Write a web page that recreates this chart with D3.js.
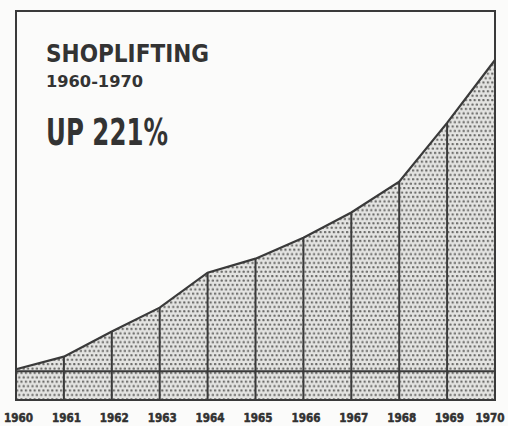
<!DOCTYPE html>
<html>
<head>
<meta charset="utf-8">
<script src="https://cdn.jsdelivr.net/npm/d3@7"></script>
<style>
  body { margin: 0; background: #fbfbfa; }
  svg { display: block; }
  .lbl { font-family: "Liberation Sans Narrow", "DejaVu Sans Condensed", "Liberation Sans", sans-serif; font-weight: bold; fill: #333; }
</style>
</head>
<body>
<div class="chart"></div>
<script>
// data: shoplifting index, 1960 = 100
const years = [1960, 1961, 1962, 1963, 1964, 1965, 1966, 1967, 1968, 1969, 1970];
const index = [100, 109, 127, 144, 169, 179, 194, 212, 234, 276, 321];
const baseValue = 98.5;
const titleLines = ["SHOPLIFTING", "1960-1970", "UP 221%"];

const W = 508, H = 426;
const margin = ({top: 11, right: 13, bottom: 26, left: 16});
const w = W - margin.left - margin.right,
      h = H - margin.top - margin.bottom;

const svg = d3.select(".chart")
  .append("svg")
  .attr("width", W)
  .attr("height", H);

// stipple pattern (staggered dots)
const defs = svg.append("defs");
const pat = defs.append("pattern")
  .attr("id", "dots")
  .attr("patternUnits", "userSpaceOnUse")
  .attr("width", 4.4)
  .attr("height", 8.8);
pat.append("rect").attr("width", 4.4).attr("height", 8.8).attr("fill", "#e4e4e2");
pat.append("circle").attr("cx", 1.1).attr("cy", 1.1).attr("r", 1.2).attr("fill", "#6a6a68");
pat.append("circle").attr("cx", 3.3).attr("cy", 5.5).attr("r", 1.2).attr("fill", "#6a6a68");

const g = svg.append("g")
  .attr("transform", `translate(${margin.left},${margin.top})`);

const x = d3.scaleLinear()
  .domain(d3.extent(years))
  .range([0, w]);

const y = d3.scaleLinear()
  .domain([78, 356])
  .range([h, 0]);

// shaded area under the curve, down to frame bottom
const area = d3.area()
  .x((d, i) => x(years[i]))
  .y0(h)
  .y1(d => y(d));

g.append("path")
  .datum(index)
  .attr("d", area)
  .attr("fill", "url(#dots)");

const ink = "#3a3a3a";

// vertical year lines
g.selectAll(".vline")
  .data(years)
  .enter()
  .append("line")
  .attr("class", "vline")
  .attr("x1", d => x(d))
  .attr("x2", d => x(d))
  .attr("y1", h)
  .attr("y2", (d, i) => y(index[i]))
  .attr("stroke", ink)
  .attr("stroke-width", 2);

// base line
g.append("line")
  .attr("x1", 0).attr("x2", w)
  .attr("y1", y(baseValue)).attr("y2", y(baseValue))
  .attr("stroke", ink)
  .attr("stroke-width", 2);

// curve
g.append("path")
  .datum(index)
  .attr("d", d3.line().x((d, i) => x(years[i])).y(d => y(d)))
  .attr("fill", "none")
  .attr("stroke", ink)
  .attr("stroke-width", 2.2);

// frame
g.append("rect")
  .attr("width", w)
  .attr("height", h)
  .attr("fill", "none")
  .attr("stroke", ink)
  .attr("stroke-width", 2);

// year labels via axis
const xAxis = d3.axisBottom(x)
  .tickValues(years)
  .tickFormat(d3.format("d"))
  .tickSize(0)
  .tickPadding(13);

const ax = g.append("g")
  .attr("transform", `translate(2,${h})`)
  .call(xAxis);
ax.select(".domain").remove();
ax.selectAll("text")
  .attr("class", "lbl")
  .attr("font-size", 13)
  .attr("fill", "#2c2c2c")
  .attr("stroke", "#2c2c2c")
  .attr("stroke-width", 0.5)
  .style("font-weight", "bold")
  .attr("textLength", 29)
  .attr("lengthAdjust", "spacingAndGlyphs");
// last label sits against the right edge, keep it inside the page
ax.selectAll("text")
  .filter(d => d === years[years.length - 1])
  .attr("text-anchor", "end")
  .attr("x", 7);

// title block
const title = svg.append("g").attr("class", "lbl");
title.append("text")
  .attr("x", 46).attr("y", 62)
  .attr("font-size", 24)
  .attr("textLength", 163)
  .attr("lengthAdjust", "spacingAndGlyphs")
  .text(titleLines[0]);
title.append("text")
  .attr("x", 46).attr("y", 87)
  .attr("font-size", 16.5)
  .attr("textLength", 97)
  .attr("lengthAdjust", "spacingAndGlyphs")
  .text(titleLines[1]);
title.append("text")
  .attr("x", 46).attr("y", 145)
  .attr("font-size", 38)
  .attr("textLength", 122)
  .attr("lengthAdjust", "spacingAndGlyphs")
  .text(titleLines[2]);
</script>
</body>
</html>
